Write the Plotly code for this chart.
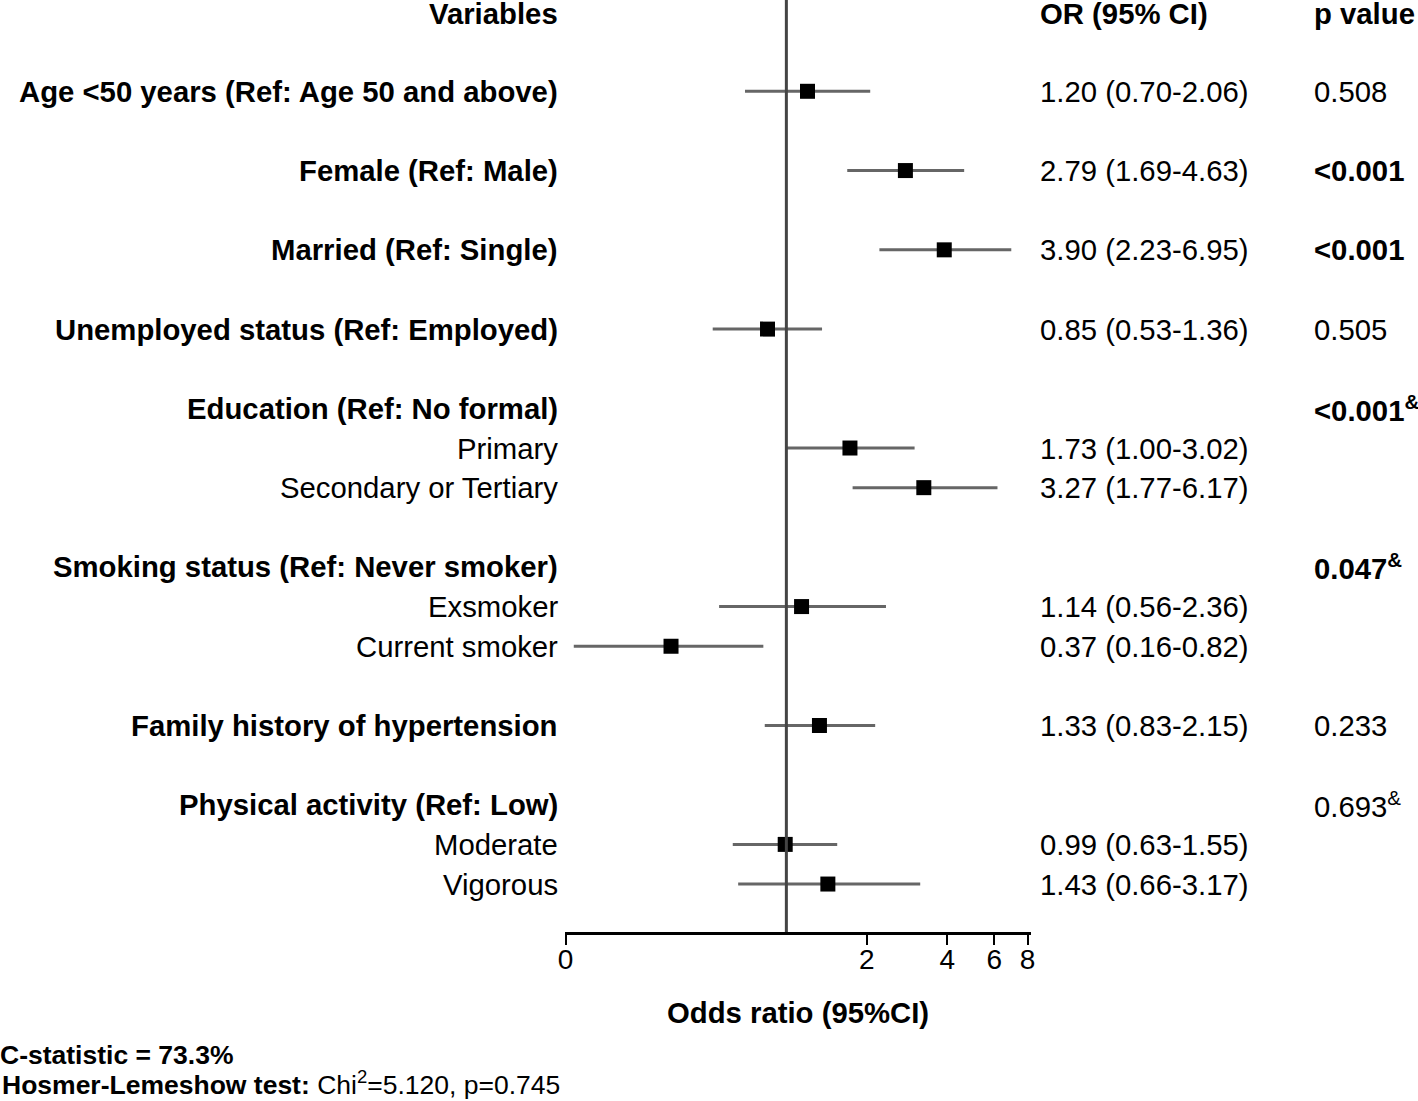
import plotly.graph_objects as go

# forest plot data
labels = ["Age &lt;50 years (Ref: Age 50 and above)", "Female (Ref: Male)", "Married (Ref: Single)",
          "Unemployed status (Ref: Employed)", "Education (Ref: No formal)", "Primary",
          "Secondary or Tertiary", "Smoking status (Ref: Never smoker)", "Exsmoker", "Current smoker",
          "Family history of hypertension", "Physical activity (Ref: Low)", "Moderate", "Vigorous"]
is_sub = [False, False, False, False, False, True, True, False, True, True, False, False, True, True]
odds = [1.20, 2.79, 3.90, 0.85, None, 1.73, 3.27, None, 1.14, 0.37, 1.33, None, 0.99, 1.43]
ci_lo = [0.70, 1.69, 2.23, 0.53, None, 1.00, 1.77, None, 0.56, 0.16, 0.83, None, 0.63, 0.66]
ci_hi = [2.06, 4.63, 6.95, 1.36, None, 3.02, 6.17, None, 2.36, 0.82, 2.15, None, 1.55, 3.17]
p_vals = ["0.508", "&lt;0.001", "&lt;0.001", "0.505", "&lt;0.001<sup>&amp;</sup>", "", "",
          "0.047<sup>&amp;</sup>", "", "", "0.233", "0.693<sup>&amp;</sup>", "", ""]
p_bold = [False, True, True, False, True, False, False, True, False, False, False, False, False, False]

tick_vals = [0.149, 2, 4, 6, 8]
tick_text = ["0", "2", "4", "6", "8"]

W, H = 1418, 1101
FONT = "Liberation Sans, Arial, sans-serif"
FS = 29.3

# row positions: main rows skip a line, sub rows follow directly
rows = []
y = 0
for s in is_sub:
    y += 1 if s else 2
    rows.append(y)

fig = go.Figure()

# CI lines
lx, ly = [], []
for r, lo, hi in zip(rows, ci_lo, ci_hi):
    if lo is None:
        continue
    lx += [lo, hi, None]
    ly += [r, r, None]
fig.add_trace(go.Scatter(x=lx, y=ly, mode="lines", line=dict(color="#666666", width=3),
                         hoverinfo="skip"))

px_ = [o for o in odds if o is not None]
py_ = [r for r, o in zip(rows, odds) if o is not None]
fig.add_trace(go.Scatter(x=px_, y=py_, mode="markers",
                         marker=dict(symbol="square", size=15, color="black")))

# reference line at OR = 1
fig.add_shape(type="line", xref="x", yref="y domain", x0=1, x1=1, y0=0, y1=1,
              line=dict(color="#444444", width=3))

def px2paper(p):
    return p / W

ann = []
def add(text, x, yy, anchor, size=FS, yref="y"):
    ann.append(dict(text=text, x=x, y=yy, xref="paper", yref=yref, xanchor=anchor,
                    yanchor="middle", showarrow=False, borderpad=0,
                    font=dict(size=size, color="black", family=FONT)))

# headers
add("<b>Variables</b>", px2paper(556), 0.04, "right")
add("<b>OR (95% CI)</b>", px2paper(1040), 0.04, "left")
add("<b>p value</b>", px2paper(1316), 0.04, "left")

for i, r in enumerate(rows):
    t = labels[i] if is_sub[i] else "<b>" + labels[i] + "</b>"
    add(t, px2paper(556), r, "right")
    if odds[i] is not None:
        add(f"{odds[i]:.2f} ({ci_lo[i]:.2f}-{ci_hi[i]:.2f})", px2paper(1040), r, "left")
    if p_vals[i]:
        pt = "<b>" + p_vals[i] + "</b>" if p_bold[i] else p_vals[i]
        add(pt, px2paper(1316), r, "left")

# axis title and footnotes
ann.append(dict(text="<b>Odds ratio (95%CI)</b>", x=(562 + 1032) / 2 / W, y=1 - 1012 / H,
                xref="paper", yref="paper", xanchor="center", yanchor="middle", showarrow=False,
                font=dict(size=FS, color="black", family=FONT)))
ann.append(dict(text="<b>C-statistic = 73.3%</b>", x=-9 / W, y=1 - 1055 / H, xref="paper", yref="paper",
                xanchor="left", yanchor="middle", showarrow=False, borderpad=0,
                font=dict(size=26.5, color="black", family=FONT)))
ann.append(dict(text="<b>Hosmer-Lemeshow test:</b> Chi<sup>2</sup>=5.120, p=0.745", x=-7 / W,
                y=1 - 1083 / H, xref="paper", yref="paper", xanchor="left", yanchor="middle",
                showarrow=False, borderpad=0, font=dict(size=26.5, color="black", family=FONT)))

fig.update_layout(
    width=W, height=H, autosize=False,
    margin=dict(l=0, r=0, t=0, b=0),
    paper_bgcolor="white", plot_bgcolor="white",
    showlegend=False,
    annotations=ann,
    font=dict(family=FONT, color="black"),
)
fig.update_xaxes(type="log", domain=[562 / W, 1032 / W], range=[-0.8278, 0.9168],
                 tickvals=tick_vals, ticktext=tick_text, ticks="outside", ticklen=10,
                 tickwidth=2, tickcolor="black", showline=True, linecolor="black", linewidth=2.5,
                 showgrid=False, zeroline=False, ticklabelstandoff=-9,
                 tickfont=dict(size=28, family=FONT, color="black"))
fig.update_yaxes(domain=[1 - 932 / H, 1], range=[23.21, -0.303], visible=False, showgrid=False,
                 zeroline=False)

fig.write_html("out.html", config={"displayModeBar": False},
               post_script="document.body.style.margin='0';")
